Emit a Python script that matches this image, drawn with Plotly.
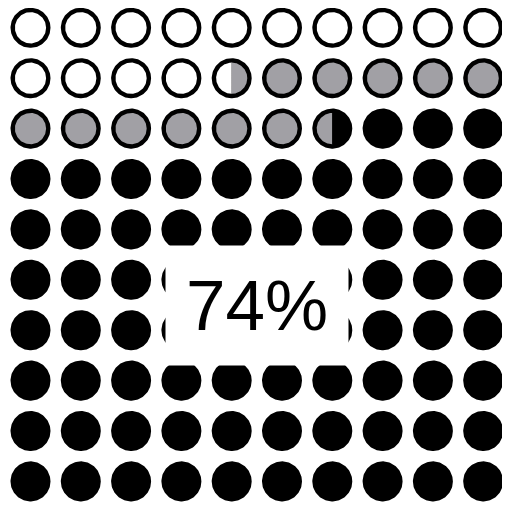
import numpy as np
import plotly.graph_objects as go

# ---- data ----
categories = ["Empty", "Partial", "Complete"]
values = [14.5, 12.0, 73.5]          # percent, sums to 100
colors = ["#ffffff", "#a1a0a5", "#000000"]
label_text = "74%"
n_cols = 10
n_rows = 10

# ---- geometry (data units, one cell = 1) ----
cell_x = 50.3
cell_y = 50.4
r_out = 20.0 / 50.3
r_in = 15.6 / 50.3


def region(cx, cy, r, f0, f1, n=60):
    """Part of a disk between two vertical lines at fractions f0..f1 of its width."""
    u0 = -1 + 2 * f0
    u1 = -1 + 2 * f1
    a0 = np.arccos(np.clip(u0, -1, 1))
    a1 = np.arccos(np.clip(u1, -1, 1))
    t = np.concatenate([np.linspace(a1, a0, n), np.linspace(2 * np.pi - a0, 2 * np.pi - a1, n)])
    xs = cx + r * np.cos(t)
    ys = cy + r * np.sin(t)
    return list(xs) + [xs[0], None], list(ys) + [ys[0], None]


bounds = np.concatenate([[0], np.cumsum(values)])
total = n_cols * n_rows

fig = go.Figure()

# outer rings (black discs)
ox, oy = [], []
for k in range(total):
    cx, cy = k % n_cols, k // n_cols
    x, y = region(cx, cy, r_out, 0, 1)
    ox += x
    oy += y
fig.add_trace(go.Scatter(x=ox, y=oy, mode="lines", fill="toself", fillcolor="#000000",
                         line=dict(width=0, color="#000000"), hoverinfo="skip", showlegend=False))

# inner fills per category
for ci, cat in enumerate(categories):
    lo, hi = bounds[ci], bounds[ci + 1]
    px, py = [], []
    for k in range(total):
        s0 = max(lo, k) - k
        s1 = min(hi, k + 1) - k
        if s1 <= s0:
            continue
        cx, cy = k % n_cols, k // n_cols
        x, y = region(cx, cy, r_in, s0, s1)
        px += x
        py += y
    fig.add_trace(go.Scatter(x=px, y=py, mode="lines", fill="toself", fillcolor=colors[ci],
                             line=dict(width=0, color=colors[ci]), name=cat,
                             hoverinfo="skip", showlegend=False))

fig.add_annotation(x=(n_cols - 1) / 2, y=5.5, xref="x", yref="y", text=label_text,
                   showarrow=False, bgcolor="#ffffff", borderpad=20,
                   font=dict(family="Liberation Sans, Arial", size=71, color="#000000"))

W, H = 510, 506
x0 = -0.5 + (8 - 5.35) / cell_x
y0 = -0.5 + (8 - 2.6) / cell_y
fig.update_xaxes(range=[x0, x0 + W / cell_x], visible=False, fixedrange=True)
fig.update_yaxes(range=[y0 + H / cell_y, y0], visible=False, fixedrange=True)
fig.update_layout(width=W, height=H, margin=dict(l=0, r=0, t=0, b=0),
                  paper_bgcolor="#ffffff", plot_bgcolor="#ffffff", showlegend=False)

fig.write_html("out.html")
